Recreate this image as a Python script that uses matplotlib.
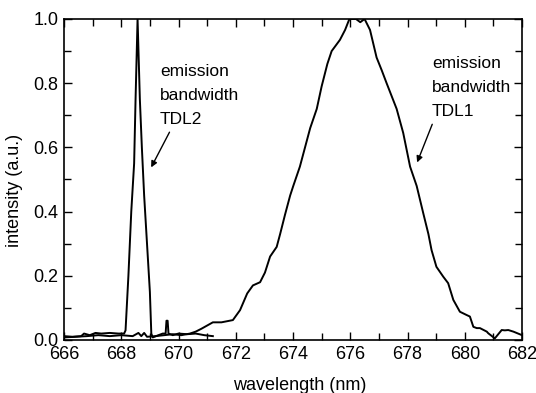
import matplotlib
matplotlib.use('Agg')
import matplotlib.pyplot as plt
from matplotlib.ticker import MultipleLocator

plt.rcParams['font.family'] = ['Liberation Sans', 'DejaVu Sans']

# TDL2 (narrow line) spectrum
wl_tdl2 = [666.0, 666.3, 666.6, 666.7, 666.9, 667.1, 667.3, 667.6, 667.9, 668.1,
           668.15, 668.25, 668.35, 668.45, 668.5, 668.57, 668.65, 668.72, 668.8,
           668.9, 669.0, 669.05, 669.1, 669.3, 669.45, 669.55, 669.58, 669.62,
           669.65, 669.8, 670.0, 670.3, 670.6, 670.9, 671.2]
int_tdl2 = [0.012, 0.01, 0.012, 0.02, 0.015, 0.022, 0.02, 0.022, 0.02, 0.02,
            0.03, 0.2, 0.4, 0.55, 0.75, 1.0, 0.75, 0.6, 0.45,
            0.3, 0.15, 0.02, 0.008, 0.015, 0.02, 0.02, 0.06, 0.06,
            0.02, 0.015, 0.02, 0.018, 0.02, 0.015, 0.012]

# TDL1 (broad) spectrum
wl_tdl1 = [666.0, 666.4, 666.8, 667.2, 667.6, 668.0, 668.4, 668.6, 668.7, 668.8,
           668.9, 669.2, 669.5, 669.8, 670.1, 670.4, 670.6, 670.8, 671.0, 671.2,
           671.5, 671.9, 672.15, 672.4, 672.6, 672.85, 673.02, 673.2, 673.43,
           673.55, 673.72, 673.9, 674.01, 674.24, 674.48, 674.6, 674.83, 675.0,
           675.2, 675.35, 675.64, 675.82, 675.97, 676.2, 676.35, 676.5, 676.69,
           676.92, 677.1, 677.27, 677.62, 677.85, 678.09, 678.32, 678.55, 678.73,
           678.84, 679.01, 679.25, 679.42, 679.6, 679.83, 680.06, 680.18, 680.3,
           680.42, 680.53, 680.77, 680.82, 681.05, 681.29, 681.4, 681.52, 681.7,
           682.0]
int_tdl1 = [0.008, 0.01, 0.012, 0.015, 0.012, 0.015, 0.012, 0.022, 0.012, 0.022,
            0.01, 0.012, 0.015, 0.018, 0.015, 0.02, 0.026, 0.035, 0.045, 0.055,
            0.055, 0.062, 0.093, 0.145, 0.17, 0.18, 0.21, 0.26, 0.29,
            0.33, 0.39, 0.45, 0.48, 0.54, 0.62, 0.66, 0.72, 0.79,
            0.86, 0.90, 0.935, 0.966, 1.0, 1.0, 0.99, 1.0, 0.966,
            0.88, 0.84, 0.80, 0.72, 0.645, 0.54, 0.48, 0.395, 0.33,
            0.28, 0.228, 0.197, 0.177, 0.125, 0.088, 0.078, 0.073, 0.041,
            0.037, 0.037, 0.026, 0.021, 0.005, 0.031, 0.03, 0.031, 0.026,
            0.015]

fig = plt.figure(figsize=(5.36, 3.93), dpi=100)
ax = fig.add_axes([0.1194, 0.1349, 0.8545, 0.8168])

ax.plot(wl_tdl2, int_tdl2, color='black', lw=1.4)
ax.plot(wl_tdl1, int_tdl1, color='black', lw=1.4)

ax.set_xlim(666, 682)
ax.set_ylim(0, 1.0)
ax.xaxis.set_major_locator(MultipleLocator(2))
ax.xaxis.set_minor_locator(MultipleLocator(1))
ax.yaxis.set_major_locator(MultipleLocator(0.2))
ax.yaxis.set_minor_locator(MultipleLocator(0.1))
ax.yaxis.set_major_formatter(matplotlib.ticker.FormatStrFormatter('%.1f'))
ax.tick_params(which='both', direction='in', top=True, right=True, width=1)
ax.tick_params(which='major', length=6, labelsize=13)
ax.tick_params(which='minor', length=5)
ax.tick_params(axis='x', pad=4)
ax.tick_params(axis='y', pad=4)
for s in ax.spines.values():
    s.set_linewidth(1.2)

ax.set_xlabel('wavelength (nm)', fontsize=13)
ax.set_ylabel('intensity (a.u.)', fontsize=13)
ax.xaxis.set_label_coords(0.515, -0.115)
ax.yaxis.set_label_coords(-0.09, 0.467)

ax.text(669.35, 0.763, 'emission\nbandwidth\nTDL2', fontsize=12.5, va='center',
        linespacing=1.75)
ax.annotate('', xy=(669.0, 0.53), xytext=(669.73, 0.655),
            arrowprops=dict(arrowstyle='-|>', color='black', lw=1,
                            mutation_scale=9))
ax.text(678.85, 0.788, 'emission\nbandwidth\nTDL1', fontsize=12.5, va='center',
        linespacing=1.75)
ax.annotate('', xy=(678.3, 0.545), xytext=(678.9, 0.68),
            arrowprops=dict(arrowstyle='-|>', color='black', lw=1,
                            mutation_scale=9))

fig.savefig('out.png', dpi=100)
